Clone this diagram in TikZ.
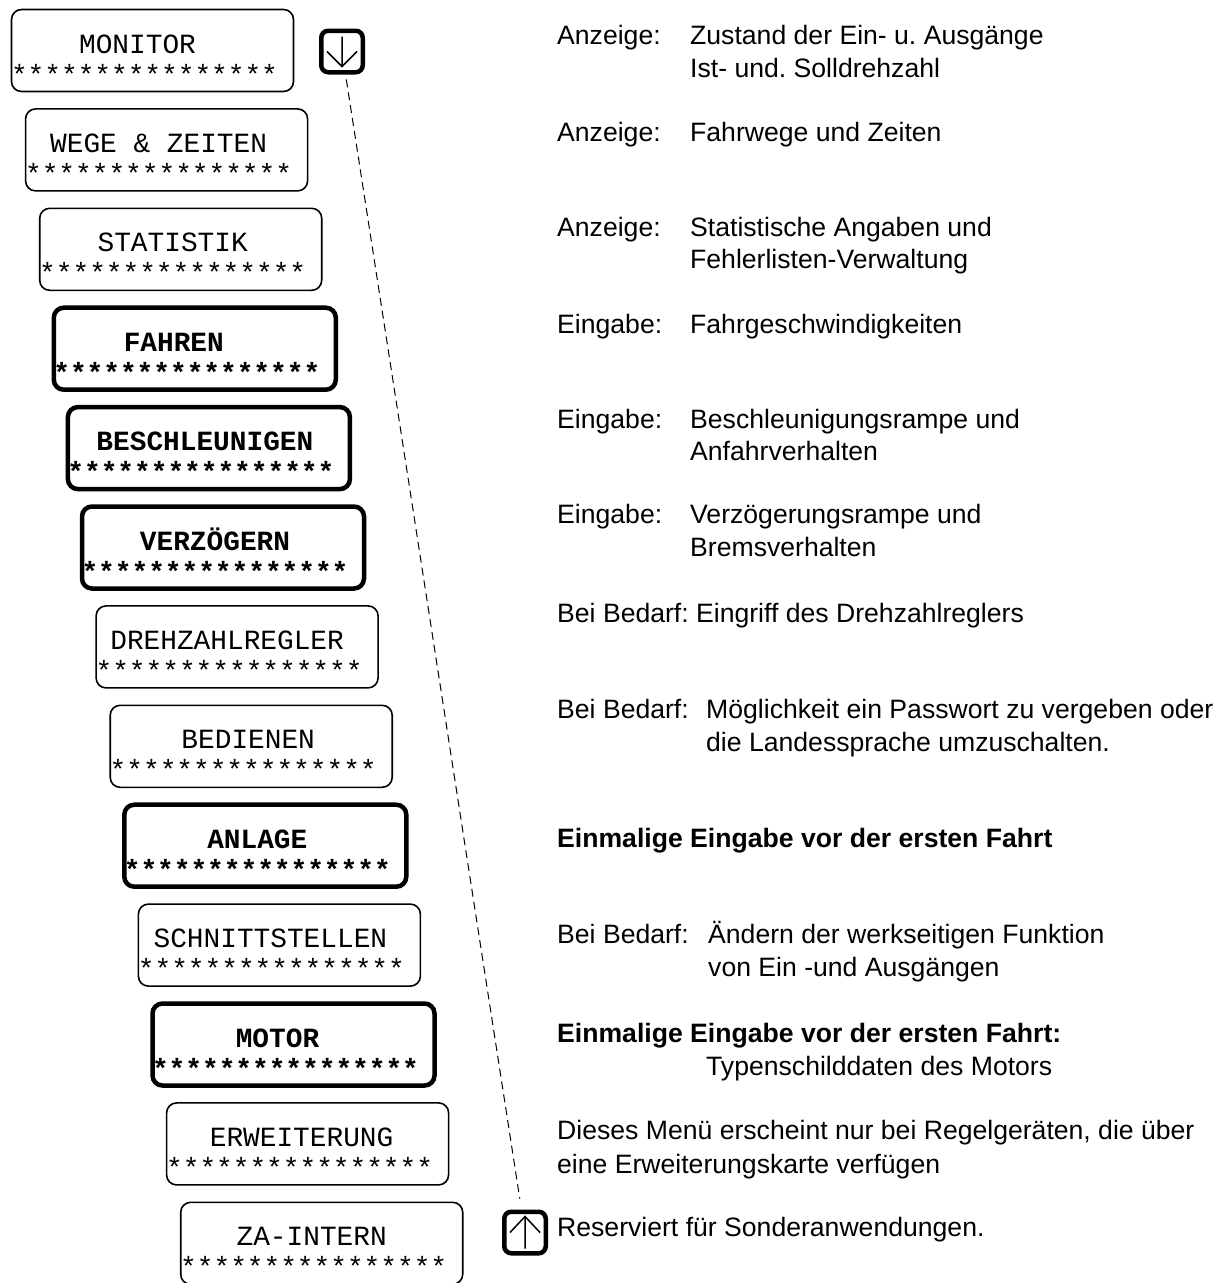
\documentclass[tikz,border=0pt]{standalone}
\usepackage{fontspec}
\setmainfont{Liberation Sans}
\setmonofont{Liberation Mono}
\frenchspacing

\tikzset{
    menuplain/.style={draw, rounded corners=10pt, minimum width=282pt, minimum height=82pt, inner sep=0pt, line width=1.6pt},
    menubold/.style={menuplain, line width=4.5pt},
    menuplain text/.style={font=\ttfamily\fontsize{27.8}{30}\selectfont, inner sep=0pt, anchor=base},
    menubold text/.style={font=\ttfamily\bfseries\fontsize{27.8}{30}\selectfont, inner sep=0pt, anchor=base},
    desctext/.style={font=\fontsize{26.6}{30}\selectfont, inner sep=0pt, anchor=base west},
    keybox/.style={draw, line width=4.5pt, rounded corners=7pt, minimum size=41.5pt, inner sep=0pt},
    keyarrow/.style={line width=1.5pt},
    guideline/.style={dash pattern=on 8pt off 5pt, line width=1pt, shorten <=5pt, shorten >=11pt},
}

\begin{document}
\begin{tikzpicture}[x=1pt, y=-1pt]
    \useasboundingbox (0,0) rectangle (1226,1283);

    % menu boxes, one step right and down each
    \foreach [count=\i from 0] \t/\s/\d in {MONITOR/menuplain/-7, WEGE \& ZEITEN/menuplain/0, STATISTIK/menuplain/0,
        FAHREN/menubold/-13, BESCHLEUNIGEN/menubold/4, VERZÖGERN/menubold/0, DREHZAHLREGLER/menuplain/-2,
        BEDIENEN/menuplain/5, ANLAGE/menubold/0, SCHNITTSTELLEN/menuplain/-1, MOTOR/menubold/-8,
        ERWEITERUNG/menuplain/2, ZA-INTERN/menuplain/-2}
    {
        \node[\s] (m\i) at ({152.5+14.1*\i}, {50.5+99.4*\i}) {};
        \node[\s\space text] (t\i) at ({144.5+14.1*\i+\d}, {53+99.4*\i}) {\t};
        \node[\s\space text] (s\i) at ({144.5+14.1*\i}, {84+99.4*\i}) {****************};
    }

    % scroll keys
    \node[keybox] (kdown) at (342,51.5) {};
    \node[keybox] (kup) at (525,1232.5) {};
    \draw[keyarrow] (kdown.center) ++(0,-15) -- ++(0,30) ++(-15,-15) -- ++(15,15) -- ++(15,-15);
    \draw[keyarrow] (kup.center) ++(0,16) -- ++(0,-32) ++(-15,16) -- ++(15,-16) -- ++(15,16);
    \draw[guideline] (kdown) -- (kup);

    % descriptions
    \foreach \x/\y/\txt [count=\n] in {
        557/44/Anzeige:, 690/44/Zustand der Ein- u. Ausgänge, 690/77/Ist- und. Solldrehzahl,
        557/141/Anzeige:, 690/141/Fahrwege und Zeiten,
        557/236/Anzeige:, 690/236/Statistische Angaben und, 690/268/Fehlerlisten-Verwaltung,
        557/333/Eingabe:, 690/333/Fahrgeschwindigkeiten,
        557/428/Eingabe:, 690/428/Beschleunigungsrampe und, 690/460/Anfahrverhalten,
        557/523/Eingabe:, 690/523/Verzögerungsrampe und, 690/556/Bremsverhalten,
        557/622/Bei Bedarf: Eingriff des Drehzahlreglers,
        557/718/Bei Bedarf:, 706/718/Möglichkeit ein Passwort zu vergeben oder, 706/751/die Landessprache umzuschalten.,
        557/847/{\bfseries Einmalige Eingabe vor der ersten Fahrt},
        557/943/Bei Bedarf:, 708/943/Ändern der werkseitigen Funktion, 708/976/von Ein -und Ausgängen,
        557/1042/{\bfseries Einmalige Eingabe vor der ersten Fahrt:}, 706/1075/Typenschilddaten des Motors,
        557/1139/{Dieses Menü erscheint nur bei Regelgeräten, die über}, 557/1173/eine Erweiterungskarte verfügen,
        557/1236/Reserviert für Sonderanwendungen.}
        \node[desctext] (d\n) at (\x,\y) {\txt};
\end{tikzpicture}
\end{document}
